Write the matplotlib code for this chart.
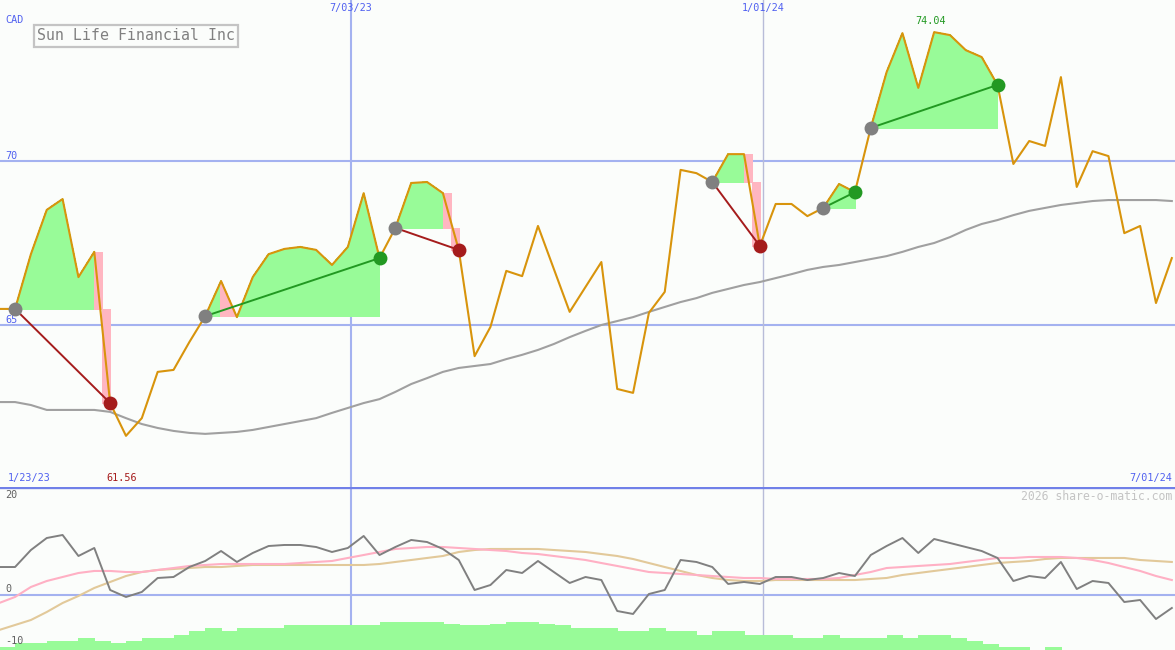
import numpy as np
import pandas as pd
import matplotlib
matplotlib.use('Agg')
import matplotlib.pyplot as plt
from matplotlib.transforms import blended_transform_factory

# weekly closes (Friday), Sun Life Financial, CAD
week_dates = pd.date_range('2023-01-27', periods=75, freq='W-FRI')
close = [65.49, 65.49, 67.16, 68.51, 68.84, 66.46, 67.23, 62.62, 61.62, 62.16,
         63.57, 63.63, 64.48, 65.27, 66.34, 65.24, 66.46, 67.16, 67.32, 67.38,
         67.29, 66.83, 67.38, 69.02, 67.04, 67.96, 69.33, 69.36, 69.02, 67.29,
         64.05, 64.94, 66.65, 66.49, 68.02, 66.71, 65.40, 66.16, 66.92, 63.05,
         62.93, 65.37, 66.01, 69.73, 69.63, 69.36, 70.21, 70.21, 67.41, 68.69,
         68.69, 68.32, 68.57, 69.30, 69.05, 71.01, 72.71, 73.90, 72.23, 73.93,
         73.84, 73.38, 73.17, 72.32, 69.91, 70.61, 70.46, 72.56, 69.21, 70.30,
         70.15, 67.80, 68.02, 65.67, 67.04]
ma40 = [62.65, 62.65, 62.56, 62.41, 62.41, 62.41, 62.41, 62.35, 62.16, 61.98,
        61.86, 61.77, 61.71, 61.68, 61.71, 61.74, 61.80, 61.89, 61.98, 62.07,
        62.16, 62.32, 62.47, 62.62, 62.74, 62.96, 63.20, 63.38, 63.57, 63.69,
        63.75, 63.81, 63.96, 64.09, 64.24, 64.42, 64.63, 64.82, 65.00, 65.12,
        65.24, 65.40, 65.55, 65.70, 65.82, 65.98, 66.10, 66.22, 66.31, 66.43,
        66.55, 66.68, 66.77, 66.83, 66.92, 67.01, 67.10, 67.23, 67.38, 67.50,
        67.68, 67.90, 68.08, 68.20, 68.35, 68.48, 68.57, 68.66, 68.72, 68.78,
        68.81, 68.81, 68.81, 68.81, 68.78]

# (entry week, exit week)
trades = [(1, 7), (13, 24), (25, 29), (45, 48), (52, 54), (55, 63)]

hi_text, hi_week = '74.04', 59
lo_text, lo_week = '61.56', 8

marker_dates = ['7/03/23', '1/01/24']
start_label, end_label = '1/23/23', '7/01/24'

# lower panel
osc_gray = [5.38, 5.38, 8.65, 10.96, 11.54, 7.50, 9.04, 0.96, -0.38, 0.58,
            3.27, 3.46, 5.38, 6.54, 8.46, 6.35, 8.08, 9.42, 9.62, 9.62,
            9.23, 8.27, 9.04, 11.35, 7.69, 9.23, 10.58, 10.19, 8.85, 6.73,
            0.96, 1.92, 4.81, 4.23, 6.54, 4.42, 2.31, 3.46, 2.88, -3.08,
            -3.65, 0.19, 0.96, 6.73, 6.35, 5.38, 2.12, 2.50, 2.12, 3.46,
            3.46, 2.88, 3.27, 4.23, 3.65, 7.69, 9.42, 10.96, 8.08, 10.77,
            10.00, 9.23, 8.46, 7.12, 2.69, 3.65, 3.27, 6.35, 1.15, 2.69,
            2.31, -1.35, -0.96, -4.62, -2.50]
osc_pink = [-1.54, -0.38, 1.54, 2.69, 3.46, 4.23, 4.62, 4.62, 4.42, 4.42,
            4.81, 5.19, 5.58, 5.77, 5.96, 5.96, 5.96, 5.96, 5.96, 6.15,
            6.35, 6.54, 7.12, 7.69, 8.27, 8.85, 9.04, 9.23, 9.23, 9.04,
            8.85, 8.65, 8.46, 8.08, 7.88, 7.50, 7.12, 6.73, 6.15, 5.58,
            5.00, 4.42, 4.23, 4.04, 3.85, 3.65, 3.46, 3.27, 3.27, 3.08,
            3.08, 3.08, 3.08, 3.27, 3.85, 4.42, 5.19, 5.38, 5.58, 5.77,
            5.96, 6.35, 6.73, 7.12, 7.12, 7.31, 7.31, 7.31, 7.12, 6.73,
            6.15, 5.38, 4.62, 3.65, 2.88]
osc_tan = [-6.73, -5.77, -4.81, -3.27, -1.54, -0.19, 1.35, 2.50, 3.65, 4.42,
           4.81, 5.00, 5.19, 5.38, 5.38, 5.58, 5.77, 5.77, 5.77, 5.77,
           5.77, 5.77, 5.77, 5.77, 5.96, 6.35, 6.73, 7.12, 7.50, 8.27,
           8.65, 8.85, 8.85, 8.85, 8.85, 8.65, 8.46, 8.27, 7.88, 7.50,
           6.92, 6.15, 5.38, 4.62, 3.85, 3.27, 2.88, 2.69, 2.69, 2.88,
           2.88, 2.88, 2.88, 2.88, 2.88, 3.08, 3.27, 3.85, 4.23, 4.62,
           5.00, 5.38, 5.77, 6.15, 6.35, 6.54, 6.92, 7.12, 7.12, 7.12,
           7.12, 7.12, 6.73, 6.54, 6.35]
vol_bars = [-10.0, -9.23, -9.23, -8.85, -8.85, -8.27, -8.85, -9.23, -8.85, -8.27,
            -8.27, -7.69, -6.92, -6.35, -6.92, -6.35, -6.35, -6.35, -5.77, -5.77,
            -5.77, -5.77, -5.77, -5.77, -5.19, -5.19, -5.19, -5.19, -5.50, -5.77,
            -5.77, -5.50, -5.19, -5.19, -5.50, -5.77, -6.35, -6.35, -6.35, -6.92,
            -6.92, -6.35, -6.92, -6.92, -7.69, -6.92, -6.92, -7.69, -7.69, -7.69,
            -8.27, -8.27, -7.69, -8.27, -8.27, -8.27, -7.69, -8.27, -7.69, -7.69,
            -8.27, -8.85, -9.42, -10.0, -10.0, -10.6, -10.0, -10.6, -10.6, -10.6,
            -10.6, -10.6, -10.6, -10.6, -10.6]

BG = '#fbfdfb'
GRID = '#a4b2f0'
ORANGE = '#d8940c'
GREEN_FILL = '#98fb98'
PINK_FILL = '#ffb6c1'
WIN = '#229922'
LOSS = '#a51c1c'
MONO = 'DejaVu Sans Mono'

x = np.arange(len(close))
first = week_dates[0].date()
marker_x = [np.busday_count(first, pd.to_datetime(d, format='%m/%d/%y').date()) / 5
            for d in marker_dates]
x_right = np.busday_count(first, pd.to_datetime(end_label, format='%m/%d/%y').date()) / 5

fig = plt.figure(figsize=(11.75, 6.5), dpi=100, facecolor=BG)
ax = fig.add_axes([0, 163 / 650, 1, 487 / 650], facecolor=BG)
ax2 = fig.add_axes([0, 0, 1, 163 / 650], facecolor=BG)

for a in (ax, ax2):
    a.set_xlim(0.05, x_right)
    a.set_xticks([])
    a.set_yticks([])
    for s in a.spines.values():
        s.set_visible(False)

############################ price panel ############################
ax.set_ylim(60.06, 74.91)
for lvl in (65, 70):
    ax.axhline(lvl, color=GRID, lw=1.5, zorder=1)
ax.axvline(marker_x[0], color=GRID, lw=1.5, zorder=1)
ax.axvline(marker_x[1], color='#b8bcd8', lw=1.0, zorder=1)

# trade shading, one piece per weekly segment
def shade(xs, ys, col):
    ax.fill(xs, ys, color=col, lw=0.4, ec=col, antialiased=False, zorder=2)

for a_i, b_i in trades:
    entry = close[a_i]
    win = close[b_i] > entry
    for i in range(a_i, b_i):
        x0, x1 = x[i], x[i + 1]
        if i + 1 == b_i and not win:
            mid = (x0 + x1) / 2
            shade([x0, mid, mid, x0], [entry, entry, close[i], close[i]], PINK_FILL)
            shade([mid, x1, x1, mid], [entry, entry, close[i + 1], close[i + 1]], PINK_FILL)
        else:
            col = GREEN_FILL if close[i + 1] >= entry else PINK_FILL
            shade([x0, x1, x1, x0], [close[i], close[i + 1], entry, entry], col)

ax.plot(x, ma40, color='#a0a0a0', lw=1.5, zorder=3)
ax.plot(x, close, color=ORANGE, lw=1.5, zorder=4)

for a_i, b_i in trades:
    win = close[b_i] > close[a_i]
    col = WIN if win else LOSS
    ax.plot([x[a_i], x[b_i]], [close[a_i], close[b_i]], color=col, lw=1.4, zorder=5)
    ax.plot(x[a_i], close[a_i], 'o', color='#808080', ms=10, mec='none', zorder=6)
    ax.plot(x[b_i], close[b_i], 'o', color=col, ms=10, mec='none', zorder=6)

tr = blended_transform_factory(ax.transData, ax.transAxes)
ax.text(hi_week - 0.2, 1 - 21 / 487, hi_text, transform=tr, color=WIN,
        ha='center', va='center', family=MONO, fontsize=7.3)
ax.text(lo_week - 0.3, 1 - 478 / 487, lo_text, transform=tr, color=LOSS,
        ha='center', va='center', family=MONO, fontsize=7.3)

for mx, lab in zip(marker_x, marker_dates):
    ax.text(mx, 1 - 8 / 487, lab, transform=tr, color='#5060f0',
            ha='center', va='center', family=MONO, fontsize=7.3)

ax.text(5 / 1175, 1 - 20 / 487, 'CAD', transform=ax.transAxes, color='#5060f0',
        ha='left', va='center', family=MONO, fontsize=7.3)
for lvl in (65, 70):
    ax.text(5 / 1175, lvl, str(lvl), transform=blended_transform_factory(ax.transAxes, ax.transData),
            color='#5060f0', ha='left', va='bottom', family=MONO, fontsize=7.3)
ax.text(8 / 1175, 1 - 478 / 487, start_label, transform=ax.transAxes, color='#5060f0',
        ha='left', va='center', family=MONO, fontsize=7.3)
ax.text(1172 / 1175, 1 - 478 / 487, end_label, transform=ax.transAxes, color='#5060f0',
        ha='right', va='center', family=MONO, fontsize=7.3)

ax.text(37 / 1175, 1 - 36 / 487, 'Sun Life Financial Inc', transform=ax.transAxes,
        color='#808080', ha='left', va='center', family=MONO, fontsize=10.7,
        bbox=dict(boxstyle='square,pad=0.22', fc=BG, ec='#c4c4c4', lw=1.6))

############################ lower panel ############################
ax2.set_ylim(-10.58, 20.77)
ax2.axhline(0, color=GRID, lw=1.5, zorder=1)
ax2.axvline(marker_x[0], color=GRID, lw=1.5, zorder=1)
ax2.axvline(marker_x[1], color='#b8bcd8', lw=1.0, zorder=1)
ax2.axhline(20.77, color='#7080e8', lw=2.4, zorder=7)

base = -10.58
ax2.bar(x, np.array(vol_bars) - base, bottom=base, width=1.0, align='edge',
        color=GREEN_FILL, lw=0.4, ec=GREEN_FILL, antialiased=False, zorder=2)
ax2.plot(x, osc_tan, color='#e2c99a', lw=1.5, zorder=3)
ax2.plot(x, osc_pink, color='#ffb0c4', lw=1.5, zorder=4)
ax2.plot(x, osc_gray, color='#808080', lw=1.4, zorder=5)

for val, yy in ((20, 495), (0, 589), (-10, 641)):
    ax2.text(5 / 1175, (650 - yy) / 163, str(val), transform=ax2.transAxes,
             color='#606060', ha='left', va='center', family=MONO, fontsize=7.3)
ax2.text(1172 / 1175, (650 - 496) / 163, '2026 share-o-matic.com', transform=ax2.transAxes,
         color='#c4c4c4', ha='right', va='center', family=MONO, fontsize=8.3)

fig.savefig('out.png', dpi=100, facecolor=BG)
